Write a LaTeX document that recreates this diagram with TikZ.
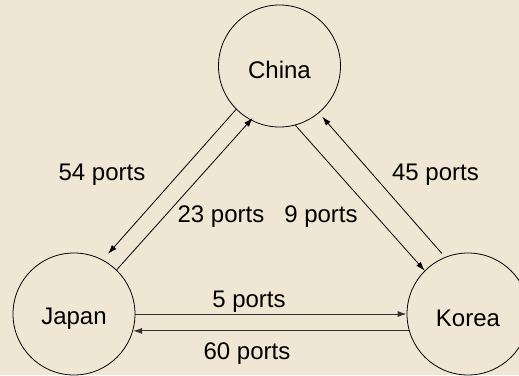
\documentclass[tikz,border=0pt]{standalone}
\usepackage{fontspec}
\setmainfont{Liberation Sans}
\usetikzlibrary{arrows.meta}
\definecolor{paper}{RGB}{239,231,211}

\begin{document}
\begin{tikzpicture}[x=1pt, y=-1pt, font=\fontsize{24}{28}\selectfont,
        country/.style={draw, circle, minimum size=122pt, inner sep=0pt, text height=26pt, line width=0.8pt},
        route/.style={-{Latex[length=9pt,width=6pt]}, line width=0.8pt},
        ports/.style={anchor=base, inner sep=0pt}]
        \useasboundingbox (0,0) rectangle (519,375);
        \fill[paper] (0,0) rectangle (519,375);
        \clip (0,0) rectangle (519,375);

        \node[country] (china) at (279.5,66) {China};
        \node[country] (japan) at (74,314) {Japan};
        \node[country] (korea) at (468,314) {Korea};

        % China - Japan
        \draw[route, shorten >=8pt] (china.225) -- (japan.62);
        \draw[route, shorten >=-3pt] (japan.46) -- (china.242);
        % China - Korea
        \draw[route] (china.285) -- (korea.135);
        \draw[route, shorten <=5pt, shorten >=5pt] (korea.112) -- (china.310);
        % Japan - Korea
        \draw[route, black!80, line width=1pt] (japan.0) -- (korea.180);
        \draw[route, black!80, line width=1pt] (korea.196) -- (japan.344);

        \node[ports] (p54) at (102,180) {54 ports};
        \node[ports] (p23) at (221,222.7) {23 ports};
        \node[ports] (p9) at (321,222.7) {9 ports};
        \node[ports] (p45) at (435.5,180) {45 ports};
        \node[ports] (p5) at (249,307.3) {5 ports};
        \node[ports] (p60) at (247,359.3) {60 ports};
    \end{tikzpicture}
\end{document}
